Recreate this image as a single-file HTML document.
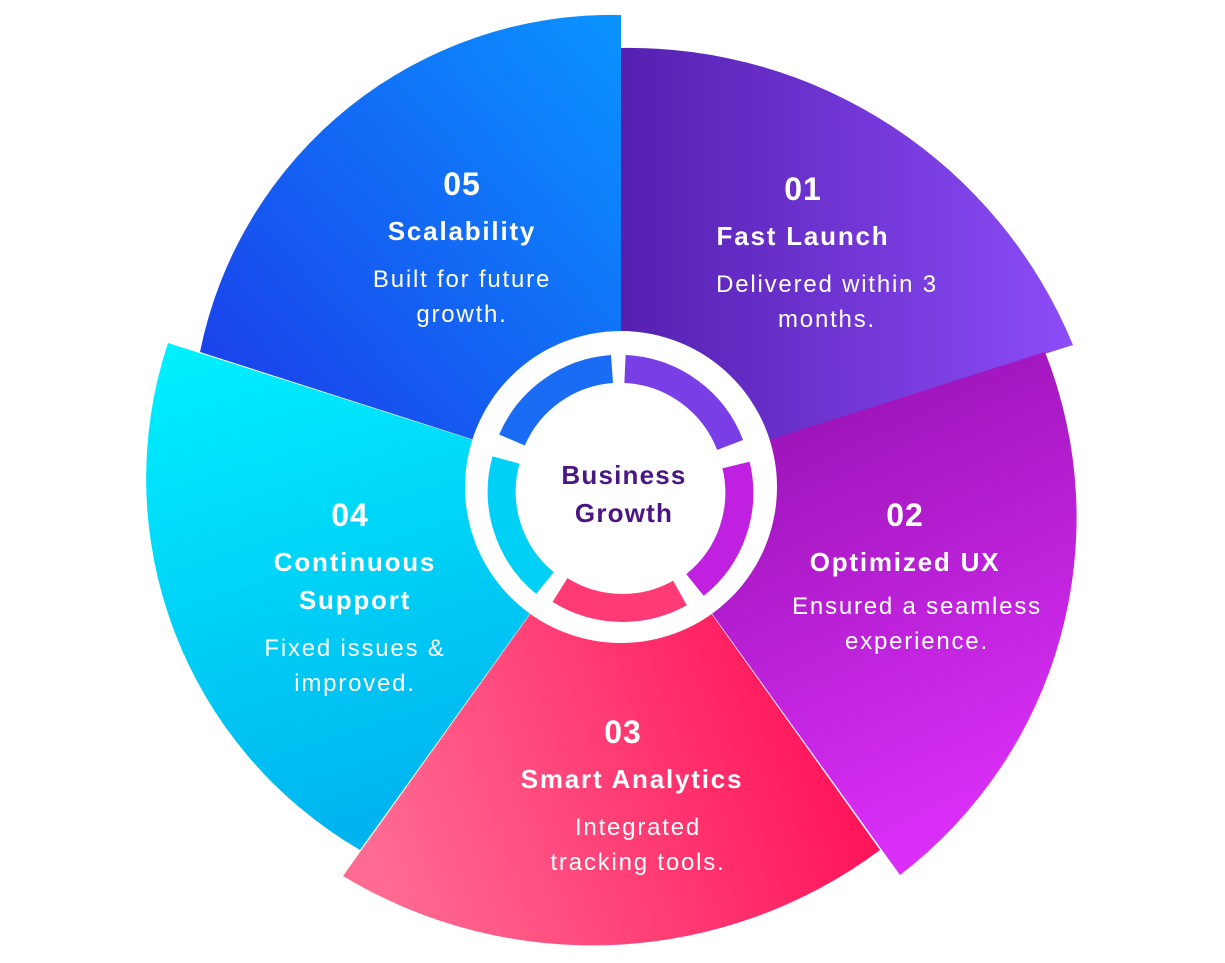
<!DOCTYPE html>
<html><head><meta charset="utf-8"><style>
html,body{margin:0;padding:0;background:#fff;}
svg{display:block;}
text{font-family:"Liberation Sans",sans-serif;fill:#fff;text-anchor:middle;}
.n{font-size:32px;font-weight:bold;letter-spacing:1px;}
.t{font-size:26px;font-weight:bold;letter-spacing:1.8px;}
.b{font-size:24px;letter-spacing:1.8px;}
</style></head><body>
<svg width="1225" height="963" viewBox="0 0 1225 963" xmlns="http://www.w3.org/2000/svg">
<defs>
<linearGradient id="g5" x1="0" y1="1" x2="1" y2="0"><stop offset="0" stop-color="#1d35e8"/><stop offset="1" stop-color="#0a94ff"/></linearGradient>
<linearGradient id="g1" x1="0" y1="0" x2="1" y2="0"><stop offset="0" stop-color="#5520b0"/><stop offset="1" stop-color="#8c4cf8"/></linearGradient>
<linearGradient id="g2" x1="0" y1="0" x2="0.4" y2="1"><stop offset="0" stop-color="#8a0ca6"/><stop offset="1" stop-color="#d82ef5"/></linearGradient>
<linearGradient id="g3" x1="0" y1="0.6" x2="1" y2="0.3"><stop offset="0" stop-color="#ff6a92"/><stop offset="1" stop-color="#ff0650"/></linearGradient>
<linearGradient id="g4" x1="0" y1="0" x2="0.3" y2="1"><stop offset="0" stop-color="#00f2ff"/><stop offset="1" stop-color="#00b4ef"/></linearGradient>
</defs>
<path d="M621,487 L621,48 A480,480 0 0,1 1073,345 Z" fill="url(#g1)"/>
<path d="M621,487 L1045,352 A450,450 0 0,1 900,875 Z" fill="url(#g2)"/>
<path d="M621,487 L360,850 A430,430 0 0,1 168,343 Z" fill="url(#g4)"/>
<path d="M621,487 L880,850 A482,482 0 0,1 343,876 Z" fill="url(#g3)"/>
<path d="M621,487 L200,352 A420,420 0 0,1 621,15 Z" fill="url(#g5)"/>
<circle cx="621" cy="487" r="156" fill="#fff"/>
<g fill="none" stroke-width="28">
<path d="M625,369 A118,118 0 0,1 730,445" stroke="#7a3ee6"/>
<path d="M736,465 A118,118 0 0,1 695,585" stroke="#c020e0"/>
<path d="M680,593 A118,118 0 0,1 560,590" stroke="#ff3a75"/>
<path d="M545,583 A118,118 0 0,1 506,460" stroke="#00d0f5"/>
<path d="M512,440 A118,118 0 0,1 612,369" stroke="#1a6cf5"/>
</g>
<circle cx="621" cy="487" r="103" fill="#fff"/>
<text x="624" y="484" class="t" style="fill:#4a1585;letter-spacing:1.2px">Business</text>
<text x="624" y="522" class="t" style="fill:#4a1585;letter-spacing:1.2px">Growth</text>
<text x="462" y="195" class="n">05</text>
<text x="462" y="240" class="t">Scalability</text>
<text x="462" y="287" class="b">Built for future</text>
<text x="462" y="322" class="b">growth.</text>
<text x="803" y="200" class="n">01</text>
<text x="803" y="245" class="t">Fast Launch</text>
<text x="827" y="292" class="b">Delivered within 3</text>
<text x="827" y="327" class="b">months.</text>
<text x="905" y="526" class="n">02</text>
<text x="905" y="571" class="t">Optimized UX</text>
<text x="917" y="614" class="b">Ensured a seamless</text>
<text x="917" y="649" class="b">experience.</text>
<text x="350" y="526" class="n">04</text>
<text x="355" y="571" class="t">Continuous</text>
<text x="355" y="609" class="t">Support</text>
<text x="355" y="656" class="b">Fixed issues &amp;</text>
<text x="355" y="691" class="b">improved.</text>
<text x="623" y="743" class="n">03</text>
<text x="632" y="788" class="t">Smart Analytics</text>
<text x="638" y="835" class="b">Integrated</text>
<text x="638" y="870" class="b">tracking tools.</text>
</svg>
</body></html>
